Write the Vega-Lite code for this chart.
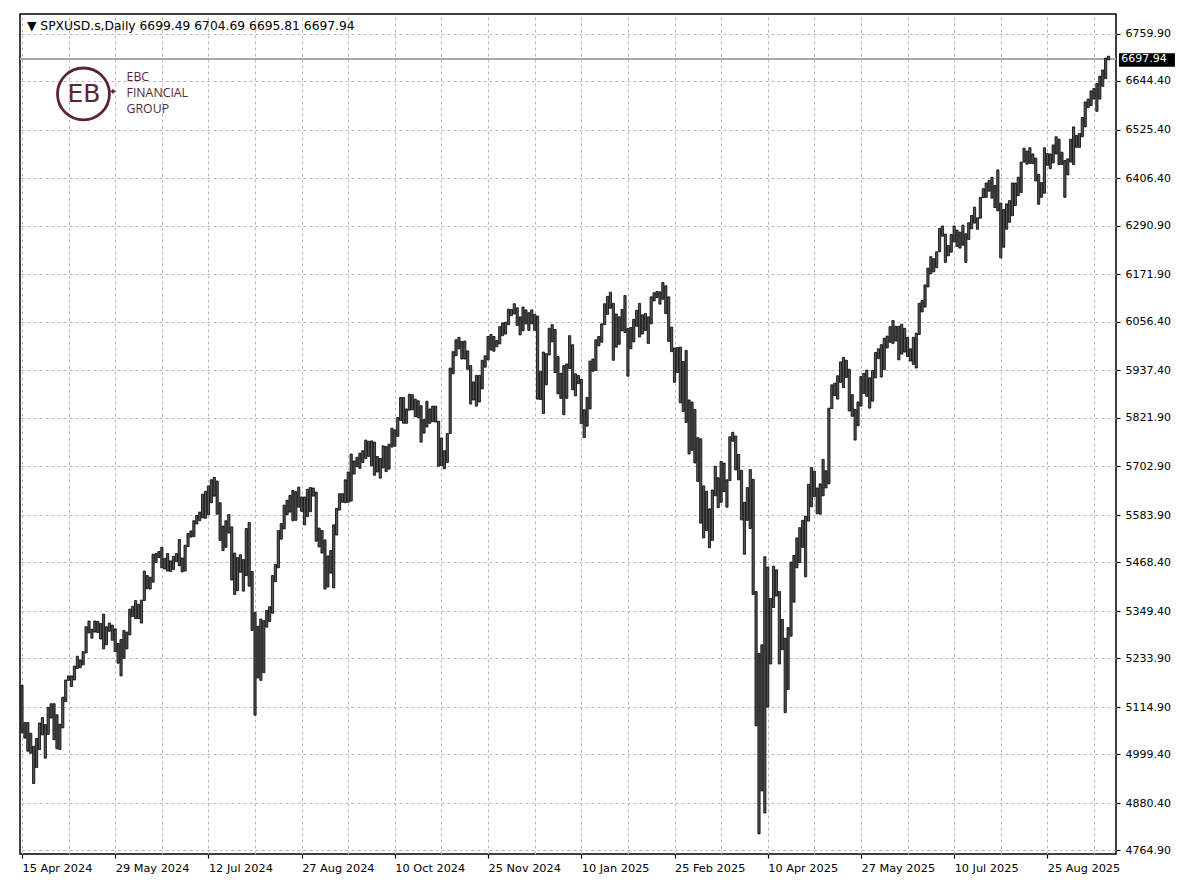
{
  "$schema": "https://vega.github.io/schema/vega-lite/v6.json",
  "width": 1096,
  "height": 840,
  "autosize": {"type": "none"},
  "padding": {"left": 20, "top": 14, "right": 84, "bottom": 42},
  "background": "#ffffff",
  "title": {
    "text": "▼  SPXUSD.s,Daily  6699.49 6704.69 6695.81 6697.94",
    "anchor": "start",
    "frame": "group",
    "orient": "top",
    "offset": -28,
    "dx": 7,
    "baseline": "alphabetic",
    "font": "DejaVu Sans",
    "fontSize": 12.3,
    "fontWeight": "normal",
    "color": "#000000"
  },
  "config": {
    "view": {"stroke": "#000000", "strokeWidth": 1.5},
    "font": "DejaVu Sans"
  },
  "datasets": {
    "bars": [
{"i":0,"h":5168,"l":5052},{"i":1,"h":5077,"l":5039},{"i":2,"h":5077,"l":5007},{"i":3,"h":5051,"l":5002},{"i":4,"h":5019,"l":4928},
{"i":5,"h":5038,"l":4967},{"i":6,"h":5076,"l":5011},{"i":7,"h":5089,"l":5047},{"i":8,"h":5072,"l":4990},{"i":9,"h":5114,"l":5048},
{"i":10,"h":5123,"l":5088},{"i":11,"h":5123,"l":5035},{"i":12,"h":5096,"l":5013},{"i":13,"h":5073,"l":5011},{"i":14,"h":5139,"l":5064},
{"i":15,"h":5181,"l":5128},{"i":16,"h":5191,"l":5180},{"i":17,"h":5191,"l":5165},{"i":18,"h":5215,"l":5181},{"i":19,"h":5239,"l":5209},
{"i":20,"h":5230,"l":5211},{"i":21,"h":5250,"l":5218},{"i":22,"h":5311,"l":5247},{"i":23,"h":5325,"l":5296},{"i":24,"h":5305,"l":5283},
{"i":25,"h":5325,"l":5298},{"i":26,"h":5324,"l":5297},{"i":27,"h":5319,"l":5281},{"i":28,"h":5342,"l":5257},{"i":29,"h":5311,"l":5267},
{"i":30,"h":5320,"l":5300},{"i":31,"h":5315,"l":5278},{"i":32,"h":5306,"l":5250},{"i":33,"h":5270,"l":5222},{"i":34,"h":5280,"l":5191},
{"i":35,"h":5302,"l":5234},{"i":36,"h":5298,"l":5257},{"i":37,"h":5354,"l":5291},{"i":38,"h":5361,"l":5336},{"i":39,"h":5375,"l":5331},
{"i":40,"h":5366,"l":5331},{"i":41,"h":5376,"l":5320},{"i":42,"h":5447,"l":5375},{"i":43,"h":5436,"l":5404},{"i":44,"h":5432,"l":5403},
{"i":45,"h":5488,"l":5420},{"i":46,"h":5490,"l":5468},{"i":47,"h":5495,"l":5480},{"i":48,"h":5505,"l":5455},{"i":49,"h":5478,"l":5452},
{"i":50,"h":5490,"l":5447},{"i":51,"h":5472,"l":5446},{"i":52,"h":5483,"l":5451},{"i":53,"h":5490,"l":5470},{"i":54,"h":5524,"l":5460},
{"i":55,"h":5479,"l":5445},{"i":56,"h":5510,"l":5447},{"i":57,"h":5539,"l":5507},{"i":58,"h":5545,"l":5530},{"i":59,"h":5570,"l":5531},
{"i":60,"h":5583,"l":5562},{"i":61,"h":5591,"l":5570},{"i":62,"h":5635,"l":5577},{"i":63,"h":5642,"l":5576},{"i":64,"h":5655,"l":5585},
{"i":65,"h":5670,"l":5614},{"i":66,"h":5676,"l":5630},{"i":67,"h":5667,"l":5586},{"i":68,"h":5614,"l":5522},{"i":69,"h":5557,"l":5497},
{"i":70,"h":5570,"l":5505},{"i":71,"h":5585,"l":5540},{"i":72,"h":5555,"l":5425},{"i":73,"h":5491,"l":5390},{"i":74,"h":5480,"l":5399},
{"i":75,"h":5487,"l":5444},{"i":76,"h":5475,"l":5398},{"i":77,"h":5551,"l":5436},{"i":78,"h":5566,"l":5410},{"i":79,"h":5446,"l":5302},
{"i":80,"h":5346,"l":5095},{"i":81,"h":5312,"l":5186},{"i":82,"h":5330,"l":5180},{"i":83,"h":5326,"l":5199},{"i":84,"h":5351,"l":5310},
{"i":85,"h":5360,"l":5324},{"i":86,"h":5436,"l":5344},{"i":87,"h":5463,"l":5421},{"i":88,"h":5546,"l":5455},{"i":89,"h":5563,"l":5525},
{"i":90,"h":5608,"l":5550},{"i":91,"h":5620,"l":5585},{"i":92,"h":5632,"l":5591},{"i":93,"h":5644,"l":5570},{"i":94,"h":5641,"l":5571},
{"i":95,"h":5652,"l":5603},{"i":96,"h":5628,"l":5593},{"i":97,"h":5628,"l":5560},{"i":98,"h":5647,"l":5580},{"i":99,"h":5651,"l":5592},
{"i":100,"h":5650,"l":5630},{"i":101,"h":5640,"l":5520},{"i":102,"h":5552,"l":5506},{"i":103,"h":5546,"l":5491},{"i":104,"h":5523,"l":5403},
{"i":105,"h":5484,"l":5408},{"i":106,"h":5497,"l":5442},{"i":107,"h":5560,"l":5406},{"i":108,"h":5600,"l":5535},{"i":109,"h":5636,"l":5596},
{"i":110,"h":5636,"l":5615},{"i":111,"h":5670,"l":5614},{"i":112,"h":5689,"l":5615},{"i":113,"h":5733,"l":5618},{"i":114,"h":5716,"l":5684},
{"i":115,"h":5725,"l":5702},{"i":116,"h":5735,"l":5698},{"i":117,"h":5741,"l":5712},{"i":118,"h":5767,"l":5722},{"i":119,"h":5764,"l":5727},
{"i":120,"h":5765,"l":5704},{"i":121,"h":5762,"l":5681},{"i":122,"h":5727,"l":5689},{"i":123,"h":5722,"l":5674},{"i":124,"h":5753,"l":5699},
{"i":125,"h":5751,"l":5690},{"i":126,"h":5757,"l":5696},{"i":127,"h":5796,"l":5750},{"i":128,"h":5792,"l":5752},{"i":129,"h":5822,"l":5776},
{"i":130,"h":5871,"l":5815},{"i":131,"h":5871,"l":5808},{"i":132,"h":5843,"l":5808},{"i":133,"h":5879,"l":5840},{"i":134,"h":5878,"l":5841},
{"i":135,"h":5867,"l":5824},{"i":136,"h":5863,"l":5822},{"i":137,"h":5851,"l":5762},{"i":138,"h":5817,"l":5784},{"i":139,"h":5862,"l":5799},
{"i":140,"h":5843,"l":5808},{"i":141,"h":5850,"l":5812},{"i":142,"h":5850,"l":5811},{"i":143,"h":5813,"l":5703},{"i":144,"h":5772,"l":5705},
{"i":145,"h":5741,"l":5697},{"i":146,"h":5783,"l":5712},{"i":147,"h":5943,"l":5783},{"i":148,"h":5983,"l":5929},{"i":149,"h":6012,"l":5973},
{"i":150,"h":6018,"l":5990},{"i":151,"h":6008,"l":5965},{"i":152,"h":6009,"l":5965},{"i":153,"h":5985,"l":5940},{"i":154,"h":5949,"l":5855},
{"i":155,"h":5909,"l":5865},{"i":156,"h":5925,"l":5850},{"i":157,"h":5925,"l":5860},{"i":158,"h":5962,"l":5892},{"i":159,"h":5973,"l":5945},
{"i":160,"h":6020,"l":5963},{"i":161,"h":6025,"l":5987},{"i":162,"h":6020,"l":5984},{"i":163,"h":6010,"l":5995},{"i":164,"h":6044,"l":6002},
{"i":165,"h":6053,"l":6022},{"i":166,"h":6055,"l":6026},{"i":167,"h":6087,"l":6049},{"i":168,"h":6086,"l":6071},{"i":169,"h":6100,"l":6075},
{"i":170,"h":6090,"l":6047},{"i":171,"h":6068,"l":6024},{"i":172,"h":6092,"l":6034},{"i":173,"h":6085,"l":6051},{"i":174,"h":6078,"l":6035},
{"i":175,"h":6085,"l":6051},{"i":176,"h":6074,"l":6035},{"i":177,"h":6070,"l":5867},{"i":178,"h":5935,"l":5866},{"i":179,"h":5982,"l":5832},
{"i":180,"h":5978,"l":5902},{"i":181,"h":6040,"l":5975},{"i":182,"h":6049,"l":6007},{"i":183,"h":6037,"l":5932},{"i":184,"h":5971,"l":5880},
{"i":185,"h":5930,"l":5869},{"i":186,"h":5949,"l":5829},{"i":187,"h":5953,"l":5869},{"i":188,"h":6022,"l":5942},{"i":189,"h":6000,"l":5890},
{"i":190,"h":5929,"l":5875},{"i":191,"h":5925,"l":5905},{"i":192,"h":5915,"l":5807},{"i":193,"h":5841,"l":5773},{"i":194,"h":5871,"l":5801},
{"i":195,"h":5960,"l":5843},{"i":196,"h":5965,"l":5935},{"i":197,"h":6012,"l":5937},{"i":198,"h":6020,"l":5997},{"i":199,"h":6051,"l":6006},
{"i":200,"h":6100,"l":6049},{"i":201,"h":6118,"l":6074},{"i":202,"h":6128,"l":6089},{"i":203,"h":6101,"l":5962},{"i":204,"h":6075,"l":5994},
{"i":205,"h":6068,"l":6001},{"i":206,"h":6086,"l":6034},{"i":207,"h":6120,"l":6030},{"i":208,"h":6040,"l":5923},{"i":209,"h":6042,"l":5990},
{"i":210,"h":6062,"l":6007},{"i":211,"h":6084,"l":6045},{"i":212,"h":6101,"l":6019},{"i":213,"h":6073,"l":6026},{"i":214,"h":6076,"l":6035},
{"i":215,"h":6068,"l":6003},{"i":216,"h":6117,"l":6051},{"i":217,"h":6127,"l":6107},{"i":218,"h":6130,"l":6115},{"i":219,"h":6129,"l":6099},
{"i":220,"h":6152,"l":6111},{"i":221,"h":6144,"l":6076},{"i":222,"h":6117,"l":6008},{"i":223,"h":6043,"l":5983},{"i":224,"h":5992,"l":5908},
{"i":225,"h":5993,"l":5932},{"i":226,"h":5994,"l":5858},{"i":227,"h":5959,"l":5837},{"i":228,"h":5986,"l":5810},{"i":229,"h":5865,"l":5733},
{"i":230,"h":5860,"l":5742},{"i":231,"h":5842,"l":5711},{"i":232,"h":5773,"l":5666},{"i":233,"h":5770,"l":5564},{"i":234,"h":5655,"l":5528},
{"i":235,"h":5642,"l":5546},{"i":236,"h":5599,"l":5504},{"i":237,"h":5645,"l":5522},{"i":238,"h":5703,"l":5631},{"i":239,"h":5675,"l":5602},
{"i":240,"h":5715,"l":5615},{"i":241,"h":5711,"l":5641},{"i":242,"h":5670,"l":5603},{"i":243,"h":5775,"l":5668},{"i":244,"h":5786,"l":5764},
{"i":245,"h":5777,"l":5694},{"i":246,"h":5732,"l":5670},{"i":247,"h":5693,"l":5572},{"i":248,"h":5615,"l":5488},{"i":249,"h":5651,"l":5571},
{"i":250,"h":5695,"l":5551},{"i":251,"h":5671,"l":5390},{"i":252,"h":5397,"l":5069},{"i":253,"h":5246,"l":4805},{"i":254,"h":5267,"l":4910},
{"i":255,"h":5482,"l":4856},{"i":256,"h":5457,"l":5115},{"i":257,"h":5380,"l":5220},{"i":258,"h":5459,"l":5358},{"i":259,"h":5450,"l":5386},
{"i":260,"h":5397,"l":5220},{"i":261,"h":5329,"l":5255},{"i":262,"h":5283,"l":5101},{"i":263,"h":5309,"l":5158},{"i":264,"h":5469,"l":5288},
{"i":265,"h":5485,"l":5371},{"i":266,"h":5528,"l":5455},{"i":267,"h":5553,"l":5468},{"i":268,"h":5571,"l":5505},{"i":269,"h":5581,"l":5433},
{"i":270,"h":5659,"l":5569},{"i":271,"h":5700,"l":5604},{"i":272,"h":5691,"l":5629},{"i":273,"h":5650,"l":5587},{"i":274,"h":5660,"l":5586},
{"i":275,"h":5720,"l":5631},{"i":276,"h":5692,"l":5650},{"i":277,"h":5845,"l":5660},{"i":278,"h":5902,"l":5844},{"i":279,"h":5906,"l":5876},
{"i":280,"h":5924,"l":5867},{"i":281,"h":5958,"l":5908},{"i":282,"h":5969,"l":5895},{"i":283,"h":5962,"l":5920},{"i":284,"h":5940,"l":5838},
{"i":285,"h":5878,"l":5825},{"i":286,"h":5842,"l":5767},{"i":287,"h":5860,"l":5802},{"i":288,"h":5922,"l":5850},{"i":289,"h":5930,"l":5881},
{"i":290,"h":5938,"l":5874},{"i":291,"h":5919,"l":5845},{"i":292,"h":5937,"l":5862},{"i":293,"h":5981,"l":5919},{"i":294,"h":5990,"l":5966},
{"i":295,"h":6000,"l":5921},{"i":296,"h":6016,"l":5939},{"i":297,"h":6021,"l":5992},{"i":298,"h":6044,"l":6006},{"i":299,"h":6059,"l":6003},
{"i":300,"h":6045,"l":6009},{"i":301,"h":6045,"l":5963},{"i":302,"h":6050,"l":5977},{"i":303,"h":6040,"l":5982},{"i":304,"h":6018,"l":5971},
{"i":305,"h":5990,"l":5960},{"i":306,"h":6018,"l":5952},{"i":307,"h":6028,"l":5943},{"i":308,"h":6101,"l":6025},{"i":309,"h":6108,"l":6080},
{"i":310,"h":6146,"l":6092},{"i":311,"h":6187,"l":6141},{"i":312,"h":6215,"l":6173},{"i":313,"h":6210,"l":6178},{"i":314,"h":6227,"l":6188},
{"i":315,"h":6284,"l":6227},{"i":316,"h":6290,"l":6265},{"i":317,"h":6270,"l":6201},{"i":318,"h":6242,"l":6217},{"i":319,"h":6269,"l":6226},
{"i":320,"h":6290,"l":6251},{"i":321,"h":6280,"l":6240},{"i":322,"h":6275,"l":6236},{"i":323,"h":6292,"l":6243},{"i":324,"h":6271,"l":6201},
{"i":325,"h":6298,"l":6257},{"i":326,"h":6316,"l":6283},{"i":327,"h":6336,"l":6297},{"i":328,"h":6310,"l":6282},{"i":329,"h":6360,"l":6309},
{"i":330,"h":6381,"l":6359},{"i":331,"h":6395,"l":6360},{"i":332,"h":6401,"l":6375},{"i":333,"h":6409,"l":6358},{"i":334,"h":6389,"l":6335},
{"i":335,"h":6427,"l":6327},{"i":336,"h":6346,"l":6212},{"i":337,"h":6330,"l":6238},{"i":338,"h":6344,"l":6282},{"i":339,"h":6352,"l":6299},
{"i":340,"h":6395,"l":6315},{"i":341,"h":6395,"l":6340},{"i":342,"h":6409,"l":6364},{"i":343,"h":6446,"l":6372},{"i":344,"h":6480,"l":6446},
{"i":345,"h":6473,"l":6441},{"i":346,"h":6481,"l":6443},{"i":347,"h":6466,"l":6442},{"i":348,"h":6456,"l":6400},{"i":349,"h":6416,"l":6343},
{"i":350,"h":6396,"l":6360},{"i":351,"h":6481,"l":6370},{"i":352,"h":6467,"l":6438},{"i":353,"h":6466,"l":6430},{"i":354,"h":6488,"l":6444},
{"i":355,"h":6508,"l":6466},{"i":356,"h":6502,"l":6440},{"i":357,"h":6470,"l":6440},{"i":358,"h":6450,"l":6360},{"i":359,"h":6454,"l":6415},
{"i":360,"h":6502,"l":6446},{"i":361,"h":6532,"l":6440},{"i":362,"h":6511,"l":6482},{"i":363,"h":6516,"l":6482},{"i":364,"h":6555,"l":6508},
{"i":365,"h":6593,"l":6532},{"i":366,"h":6600,"l":6579},{"i":367,"h":6620,"l":6584},{"i":368,"h":6626,"l":6600},{"i":369,"h":6638,"l":6570},
{"i":370,"h":6656,"l":6600},{"i":371,"h":6671,"l":6631},{"i":372,"h":6700,"l":6650},{"i":373,"h":6704.69,"l":6695.81}
    ]
  },
  "resolve": {"axis": {"x": "independent", "y": "independent"}},
  "layer": [
    {
      "data": {"name": "bars"},
      "mark": {"type": "point", "opacity": 0, "size": 1},
      "encoding": {
        "x": {
          "field": "i", "type": "quantitative",
          "scale": {"domain": [-0.687, 375.56], "nice": false, "zero": false, "padding": 0},
          "axis": {
            "orient": "top", "values": [0,16,32,48,64,80,96,112,128,144,160,176,192,208,224,240,256,272,288,304,320,336,352,368],
            "grid": true, "gridColor": "#b9b9b9", "gridDash": [3, 3], "gridWidth": 1,
            "labels": false, "ticks": false, "domain": false, "title": null
          }
        },
        "y": {
          "field": "l", "type": "quantitative",
          "scale": {"domain": [4755.9, 6807.8], "nice": false, "zero": false},
          "axis": null
        }
      }
    },
    {
      "data": {"name": "bars"},
      "mark": {"type": "rule", "color": "#a8a8a8", "strokeWidth": 1.3},
      "encoding": {
        "y": {"datum": 6697.94, "type": "quantitative", "axis": null}
      }
    },
    {
      "data": {"name": "bars"},
      "mark": {"type": "bar", "width": 2.2, "fill": "#555555", "stroke": "#000000", "strokeWidth": 0.8},
      "encoding": {
        "x": {
          "field": "i", "type": "quantitative",
          "axis": {
            "orient": "bottom",
            "values": [0,32,64,96,128,160,192,224,256,288,320,352],
            "labelExpr": "['15 Apr 2024','29 May 2024','12 Jul 2024','27 Aug 2024','10 Oct 2024','25 Nov 2024','10 Jan 2025','25 Feb 2025','10 Apr 2025','27 May 2025','10 Jul 2025','25 Aug 2025'][round(datum.value/32)]",
            "labelAlign": "left", "labelPadding": 4, "labelFontSize": 11.3, "labelFont": "DejaVu Sans",
            "labelColor": "#000000", "labelFlush": false, "labelOverlap": false,
            "tickSize": 4, "tickColor": "#000000", "tickWidth": 1.2,
            "grid": false, "domain": false, "title": null
          }
        },
        "y": {
          "field": "l", "type": "quantitative",
          "axis": {
            "orient": "right",
            "values": [4764.9,4880.4,4999.4,5114.9,5233.9,5349.4,5468.4,5583.9,5702.9,5821.9,5937.4,6056.4,6171.9,6290.9,6406.4,6525.4,6644.4,6759.9],
            "format": ".2f",
            "grid": true, "gridColor": "#b9b9b9", "gridDash": [3, 3], "gridWidth": 1,
            "labelPadding": 5, "labelFontSize": 11, "labelFont": "DejaVu Sans", "labelColor": "#000000",
            "tickSize": 4, "tickColor": "#000000", "tickWidth": 1.2,
            "domain": false, "title": null
          }
        },
        "y2": {"field": "h"}
      }
    },
    {
      "data": {"values": [{"k": "ring"}]},
      "mark": {"type": "point", "shape": "circle", "size": 2700, "filled": false, "stroke": "#5a2636", "strokeWidth": 2.8, "opacity": 1},
      "encoding": {
        "x": {"datum": 21.1, "type": "quantitative", "axis": null},
        "y": {"datum": 6612.4, "type": "quantitative", "axis": null}
      }
    },
    {
      "data": {"values": [{"t": "EB"}]},
      "mark": {"type": "text", "font": "DejaVu Sans", "fontSize": 25, "color": "#5a2636", "align": "center", "baseline": "middle", "letterSpacing": -3},
      "encoding": {
        "x": {"datum": 21.3, "type": "quantitative", "axis": null},
        "y": {"datum": 6612.4, "type": "quantitative", "axis": null},
        "text": {"field": "t"}
      }
    },
    {
      "data": {"values": [{"t": "✦"}]},
      "mark": {"type": "text", "font": "DejaVu Sans", "fontSize": 10, "color": "#5a2636", "align": "center", "baseline": "middle"},
      "encoding": {
        "x": {"datum": 31.2, "type": "quantitative", "axis": null},
        "y": {"datum": 6617.2, "type": "quantitative", "axis": null},
        "text": {"field": "t"}
      }
    },
    {
      "data": {"values": [{"t": "EBC", "p": 6653.9, "w": "bold"}, {"t": "FINANCIAL", "p": 6614.8, "w": "normal"}, {"t": "GROUP", "p": 6575.7, "w": "normal"}]},
      "mark": {"type": "text", "font": "Open Sans", "fontSize": 12.3, "letterSpacing": 0.9, "color": "#5a2636", "align": "left", "baseline": "middle"},
      "encoding": {
        "x": {"datum": 35.9, "type": "quantitative", "axis": null},
        "y": {"field": "p", "type": "quantitative", "axis": null},
        "text": {"field": "t"},
        "fontWeight": {"field": "w", "type": "nominal", "scale": null}
      }
    },
    {
      "data": {"values": [{"k": "box"}]},
      "mark": {"type": "rect", "color": "#000000", "clip": false},
      "encoding": {
        "x": {"datum": 376.6, "type": "quantitative", "axis": null},
        "x2": {"datum": 395.8},
        "y": {"datum": 6711.8, "type": "quantitative", "axis": null},
        "y2": {"datum": 6679.1}
      }
    },
    {
      "data": {"values": [{"t": "6697.94"}]},
      "mark": {"type": "text", "font": "DejaVu Sans", "fontSize": 11, "color": "#ffffff", "align": "left", "baseline": "middle", "clip": false},
      "encoding": {
        "x": {"datum": 377.4, "type": "quantitative", "axis": null},
        "y": {"datum": 6697.94, "type": "quantitative", "axis": null},
        "text": {"field": "t"}
      }
    }
  ]
}
